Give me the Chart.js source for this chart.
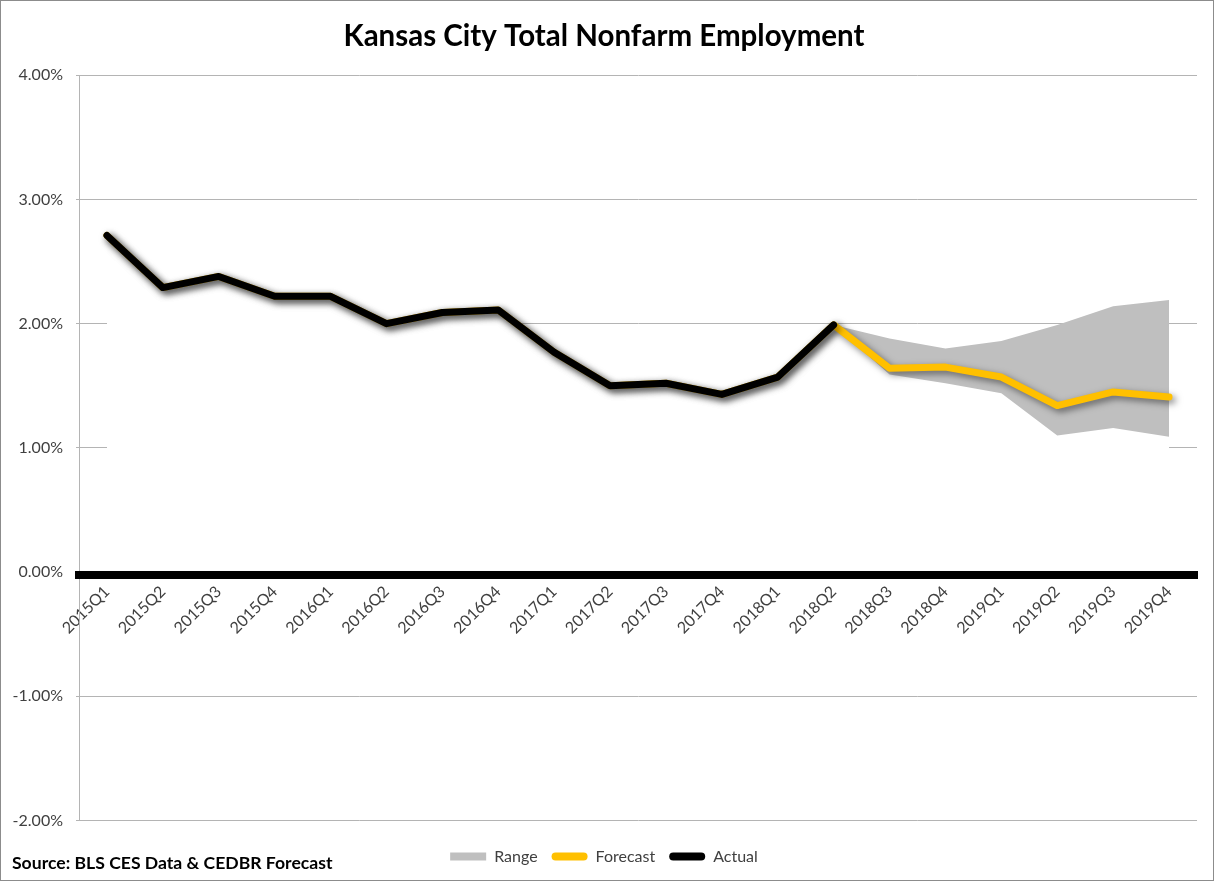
<!DOCTYPE html>
<html>
<head>
<meta charset="utf-8">
<script src="https://cdn.jsdelivr.net/npm/chart.js@4.4.1/dist/chart.umd.min.js"></script>
<style>
  body { margin: 0; background: #fff; }
  .frame {
    position: relative;
    width: 1214px;
    height: 881px;
    box-sizing: border-box;
    border: 1px solid #8c8c8c;
  }
  .source {
    position: absolute;
    left: 11px;
    top: 851px;
    font: bold 17.6px Lato, sans-serif;
    line-height: 22px;
    color: #000;
  }
</style>
</head>
<body>
<div class="frame">
  <canvas id="chart" width="1212" height="879"></canvas>
  <div class="source">Source: BLS CES Data &amp; CEDBR Forecast</div>
</div>
<script>
const quarters = [
  "2015Q1", "2015Q2", "2015Q3", "2015Q4",
  "2016Q1", "2016Q2", "2016Q3", "2016Q4",
  "2017Q1", "2017Q2", "2017Q3", "2017Q4",
  "2018Q1", "2018Q2", "2018Q3", "2018Q4",
  "2019Q1", "2019Q2", "2019Q3", "2019Q4"
]

// percent growth, year over year
const actual = [2.71, 2.29, 2.38, 2.22, 2.22, 2.0, 2.09, 2.11, 1.77, 1.5, 1.52, 1.43, 1.57, 1.99,
  null, null, null, null, null, null]
const forecast = [2.71, 2.29, 2.38, 2.22, 2.22, 2.0, 2.09, 2.11, 1.77, 1.5, 1.52, 1.43, 1.57, 1.99,
  1.64, 1.65, 1.57, 1.34, 1.45, 1.41]
const rangeHigh = [2.71, 2.29, 2.38, 2.22, 2.22, 2.0, 2.09, 2.11, 1.77, 1.5, 1.52, 1.43, 1.57, 1.99,
  1.88, 1.8, 1.86, 1.99, 2.14, 2.19]
const rangeLow = [2.71, 2.29, 2.38, 2.22, 2.22, 2.0, 2.09, 2.11, 1.77, 1.5, 1.52, 1.43, 1.57, 1.99,
  1.59, 1.52, 1.44, 1.1, 1.16, 1.09]

const yTicks = [-2, -1, 0, 1, 2, 3, 4]

const GREY = "#bfbfbf"
const GOLD = "#ffc000"
const TEXT = "#404040"

// soft drop shadow under the two thick lines, like the spreadsheet original
const lineShadow = {
  id: "lineShadow",
  beforeDatasetDraw(chart, args) {
    if (!chart.data.datasets[args.index].shadow) return
    const ctx = chart.ctx
    ctx.save()
    ctx.shadowColor = "rgba(0, 0, 0, 0.5)"
    ctx.shadowBlur = 7
    ctx.shadowOffsetX = 3
    ctx.shadowOffsetY = 3
  },
  afterDatasetDraw(chart, args) {
    if (chart.data.datasets[args.index].shadow) chart.ctx.restore()
  }
}

const flat = { pointRadius: 0, borderWidth: 0, borderColor: "transparent" }

new Chart(document.getElementById("chart"), {
  type: "line",
  data: {
    labels: quarters,
    datasets: [
      {
        label: "Range",
        data: rangeHigh,
        ...flat,
        backgroundColor: GREY,
        legendColor: GREY,
        fill: 3,
        order: 3
      },
      {
        label: "Forecast",
        data: forecast,
        borderColor: GOLD,
        borderWidth: 7,
        borderCapStyle: "round",
        borderJoinStyle: "round",
        pointRadius: 0,
        fill: false,
        legendColor: GOLD,
        shadow: true,
        order: 2
      },
      {
        label: "Actual",
        data: actual,
        borderColor: "#000",
        borderWidth: 7,
        borderCapStyle: "round",
        borderJoinStyle: "round",
        pointRadius: 0,
        fill: false,
        legendColor: "#000",
        shadow: true,
        order: 1
      },
      {
        // white base of the stacked range, hides the grid under the lines
        label: "base",
        data: rangeLow,
        ...flat,
        backgroundColor: "#fff",
        fill: "origin",
        order: 4
      }
    ]
  },
  options: {
    responsive: false,
    animation: false,
    layout: { padding: { left: 10, right: 16, top: 0, bottom: 5.5 } },
    scales: {
      x: {
        type: "category",
        offset: true,
        position: { y: -0.025 },
        grid: { display: false, drawTicks: false },
        border: { display: true, color: "#000", width: 8, z: 1 },
        ticks: {
          minRotation: 45,
          maxRotation: 45,
          autoSkip: false,
          padding: 7,
          color: TEXT,
          font: { family: "Lato", size: 16 }
        }
      },
      y: {
        min: -2,
        max: 4,
        afterFit: scale => { scale.width = 68 },
        afterBuildTicks: scale => { scale.ticks = yTicks.map(v => ({ value: v })) },
        grid: { color: "#b4b4b4", lineWidth: 1, tickLength: 3 },
        border: { display: true, color: "#b4b4b4", width: 1 },
        ticks: {
          padding: 13,
          color: TEXT,
          font: { family: "Lato", size: 16 },
          callback: v => v.toFixed(2) + "%"
        }
      }
    },
    plugins: {
      title: {
        display: true,
        text: "Kansas City Total Nonfarm Employment",
        color: "#000",
        font: { family: "Lato", size: 29.5, weight: "bold" },
        padding: { top: 17.3, bottom: 21.5 }
      },
      legend: {
        position: "bottom",
        title: { display: true, text: "", padding: 0, font: { size: 14, lineHeight: 1 } },
        labels: {
          boxWidth: 36,
          boxHeight: 8,
          padding: 14,
          useBorderRadius: true,
          color: TEXT,
          font: { family: "Lato", size: 16 },
          generateLabels: chart => chart.data.datasets.slice(0, 3).map((ds, i) => ({
            text: ds.label,
            fillStyle: ds.legendColor,
            strokeStyle: ds.legendColor,
            lineWidth: 0,
            borderRadius: i === 0 ? 0 : 4,
            fontColor: TEXT,
            datasetIndex: i
          }))
        }
      },
      tooltip: { enabled: false }
    }
  },
  plugins: [lineShadow]
})
</script>
</body>
</html>
